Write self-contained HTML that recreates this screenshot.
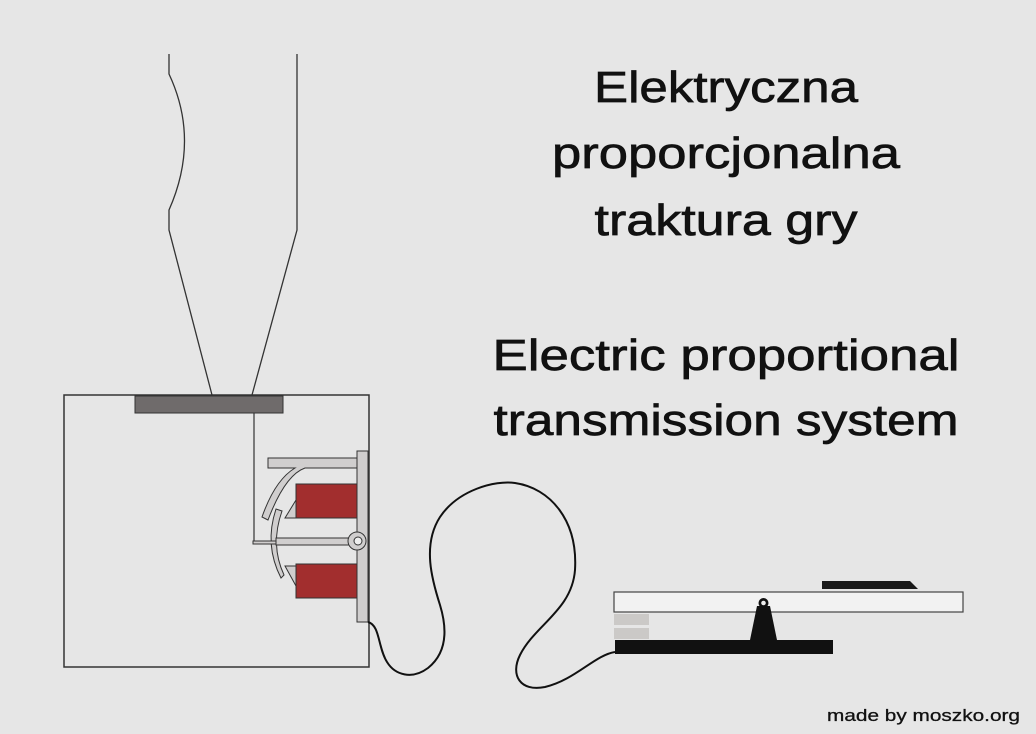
<!DOCTYPE html>
<html><head><meta charset="utf-8"><style>
html,body{margin:0;padding:0;background:#e6e6e6;}
svg{display:block;}
text{font-family:"Liberation Sans",sans-serif;fill:#111;}
</style></head><body>
<svg width="1036" height="734" viewBox="0 0 1036 734" xmlns="http://www.w3.org/2000/svg">
<rect width="1036" height="734" fill="#e6e6e6"/>
<!-- pipe -->
<path d="M169 54 L169 74 Q200 140 169 210 L169 230 L212 395" fill="none" stroke="#333" stroke-width="1.3"/>
<path d="M297 54 L297 230 L252 395" fill="none" stroke="#333" stroke-width="1.3"/>
<!-- box -->
<rect x="64" y="395" width="305" height="272" fill="none" stroke="#333" stroke-width="1.5"/>
<rect x="135" y="396" width="148" height="17" fill="#6f6b6b" stroke="#333" stroke-width="1"/>
<line x1="254" y1="413" x2="254" y2="543" stroke="#333" stroke-width="1.2"/>
<!-- mechanism -->
<g stroke="#333" stroke-width="1" fill="#d0cece">
<path d="M268 458 L357 458 L357 468 L305 468 Q285 475 268 520 L262 517 Q275 480 295 468 L268 468 Z"/>
<rect x="296" y="484" width="61" height="34" fill="#a22e2e"/>
<rect x="296" y="564" width="61" height="34" fill="#a22e2e"/>
<path d="M296 500 L296 518 L285 518 Z"/>
<path d="M296 566 L285 566 L296 586 Z"/>
<path d="M276 509 Q264 545 281 578 L284 575 Q270 545 282 511 Z"/>
<rect x="276" y="538" width="81" height="7"/>
<rect x="253" y="541" width="23" height="3"/>
<rect x="357" y="451" width="11" height="171"/>
<circle cx="357" cy="541" r="9"/>
<circle cx="358" cy="541" r="4" fill="#eee"/>
</g>
<!-- cable -->
<path d="M368 622 C380 625 378 648 387 662 C395 675 412 680 428 668 C448 652 447 628 440 605 C432 580 422 545 440 517 C458 490 495 480 515 483 C550 488 578 520 575 570 C572 610 535 625 520 655 C510 675 520 692 545 687 C575 680 595 655 615 652" fill="none" stroke="#111" stroke-width="2"/>
<!-- key -->
<path d="M822 589 L822 581 L910 581 L918 589 Z" fill="#1a1a1a"/>
<rect x="614" y="592" width="349" height="20" fill="#f2f2f2" stroke="#444" stroke-width="1.2"/>
<path d="M750 640 L757 606 L770 606 L777 640 Z" fill="#111"/>
<circle cx="763.5" cy="603" r="5" fill="#111"/>
<circle cx="763.5" cy="603" r="2.3" fill="#eee"/>
<rect x="614" y="614" width="35" height="11" fill="#cbc9c7"/>
<rect x="614" y="628" width="35" height="11" fill="#cbc9c7"/>
<rect x="615" y="640" width="218" height="14" fill="#111"/>
<!-- text -->
<g text-anchor="middle" font-size="44" stroke="#111" stroke-width="0.7">
<text x="726" y="102" textLength="264" lengthAdjust="spacingAndGlyphs">Elektryczna</text>
<text x="726" y="168" textLength="348" lengthAdjust="spacingAndGlyphs">proporcjonalna</text>
<text x="726" y="235" textLength="263" lengthAdjust="spacingAndGlyphs">traktura gry</text>
<text x="726" y="370" textLength="467" lengthAdjust="spacingAndGlyphs">Electric proportional</text>
<text x="726" y="435" textLength="465" lengthAdjust="spacingAndGlyphs">transmission system</text>
</g>
<text x="827" y="721" font-size="17" stroke="#111" stroke-width="0.3" textLength="193" lengthAdjust="spacingAndGlyphs">made by moszko.org</text>
</svg>
</body></html>
